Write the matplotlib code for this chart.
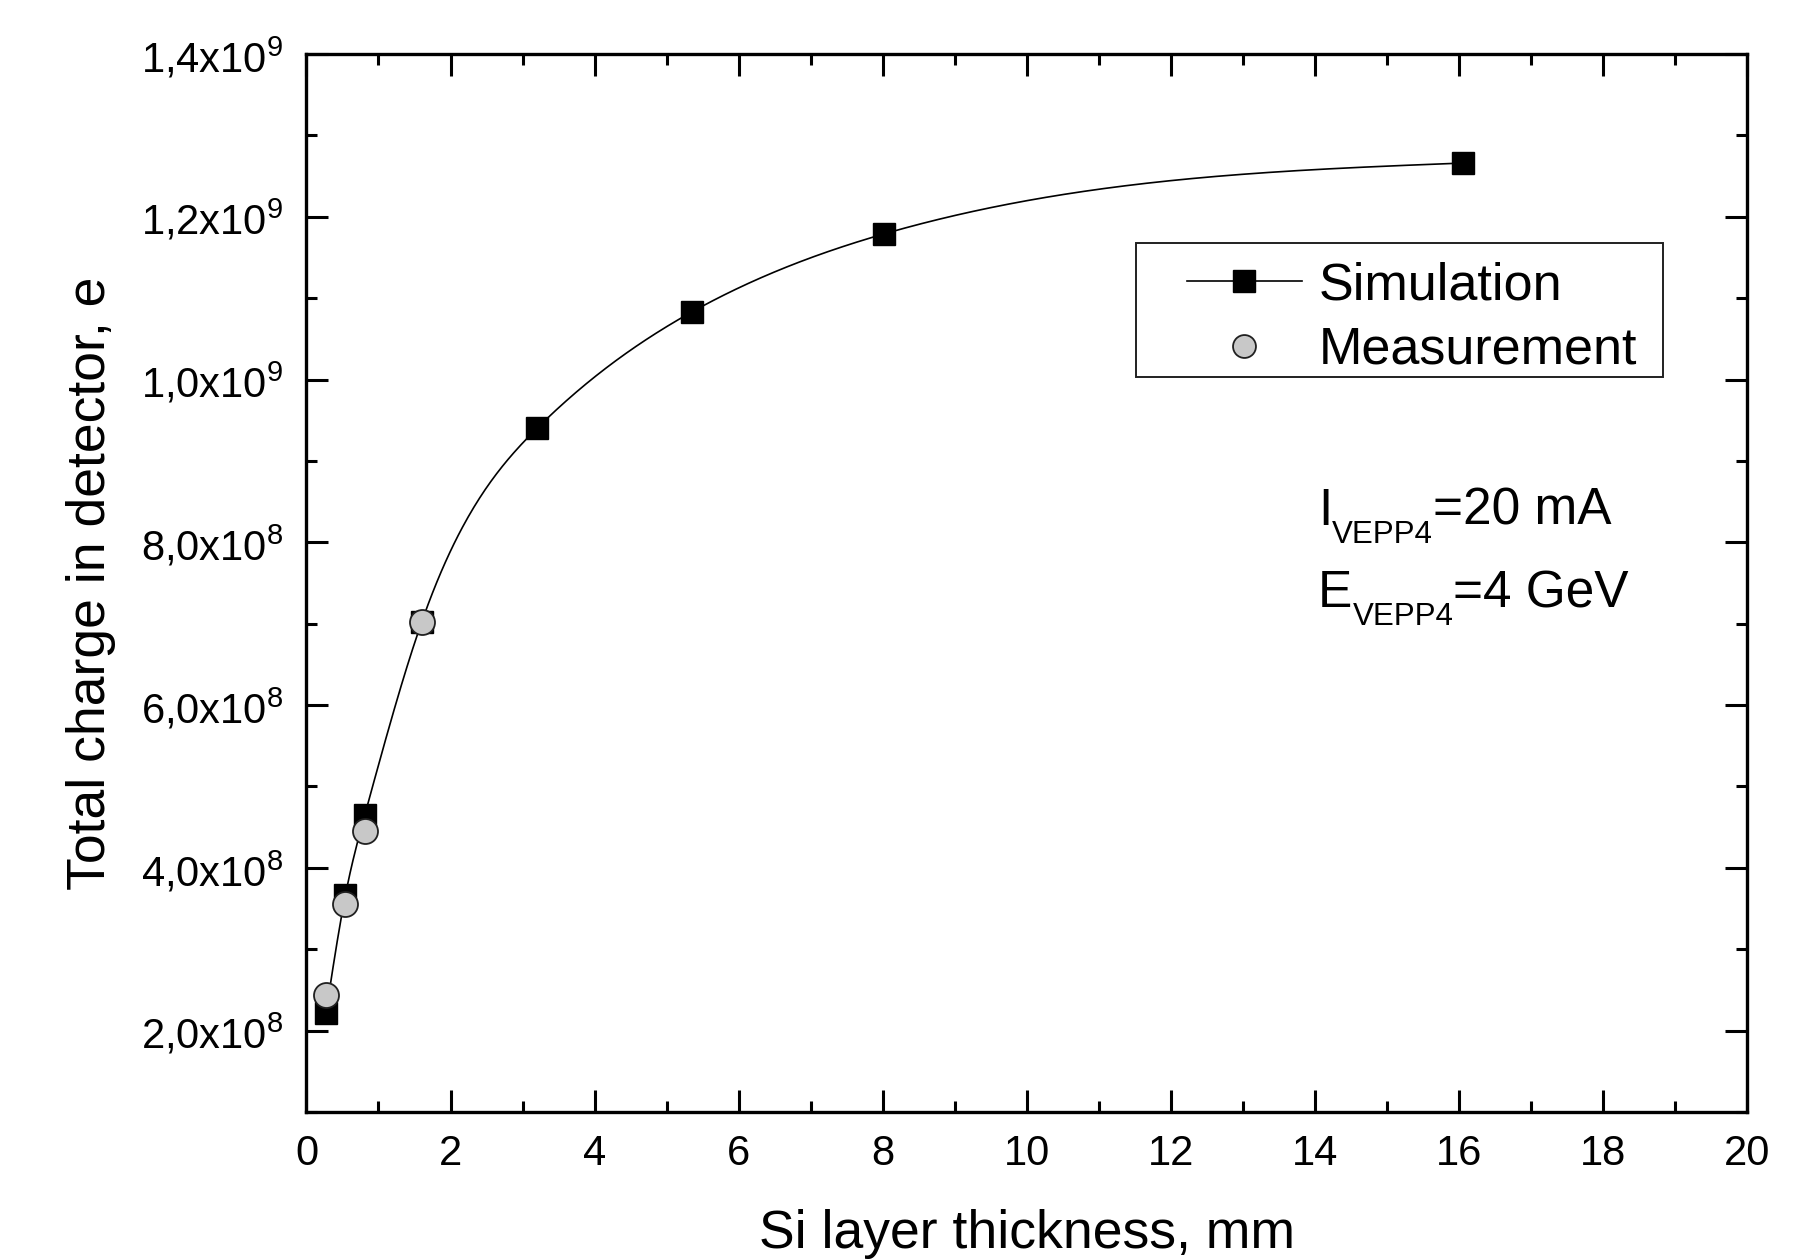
import matplotlib
matplotlib.use("Agg")
import matplotlib.pyplot as plt
import numpy as np
from matplotlib.patches import Rectangle
from matplotlib.ticker import FuncFormatter, MultipleLocator

plt.rcParams["font.family"] = ["Liberation Sans", "DejaVu Sans"]
plt.rcParams["mathtext.default"] = "regular"

# data
sim_thickness = [0.27, 0.54, 0.81, 1.6, 3.2, 5.35, 8.02, 16.05]
sim_charge = [2.21e8, 3.66e8, 4.65e8, 7.02e8, 9.40e8, 1.083e9, 1.179e9, 1.266e9]
meas_thickness = [0.27, 0.54, 0.81, 1.6]
meas_charge = [2.44e8, 3.56e8, 4.45e8, 7.02e8]

W, H = 1807, 1259


def natural_spline(x, y, xs):
    # natural cubic spline through the points (line style like Origin's "spline")
    x = np.asarray(x, float)
    y = np.asarray(y, float)
    n = len(x)
    h = np.diff(x)
    A = np.zeros((n, n))
    b = np.zeros(n)
    A[0, 0] = A[-1, -1] = 1.0
    for i in range(1, n - 1):
        A[i, i - 1] = h[i - 1]
        A[i, i] = 2 * (h[i - 1] + h[i])
        A[i, i + 1] = h[i]
        b[i] = 6 * ((y[i + 1] - y[i]) / h[i] - (y[i] - y[i - 1]) / h[i - 1])
    m = np.linalg.solve(A, b)
    idx = np.clip(np.searchsorted(x, xs) - 1, 0, n - 2)
    x0, x1 = x[idx], x[idx + 1]
    hh = h[idx]
    return (m[idx] * (x1 - xs) ** 3 / (6 * hh) + m[idx + 1] * (xs - x0) ** 3 / (6 * hh)
            + (y[idx] / hh - m[idx] * hh / 6) * (x1 - xs)
            + (y[idx + 1] / hh - m[idx + 1] * hh / 6) * (xs - x0))


def sci_label(value, pos):
    if value == 0:
        return "0"
    exp = int(np.floor(np.log10(abs(value)) + 1e-9))
    mant = value / 10**exp
    return f"{mant:.1f}".replace(".", ",") + "x10$^{" + str(exp) + "}$"


fig = plt.figure(figsize=(W / 100, H / 100), dpi=100)
ax = fig.add_axes([0.1696, 0.1168, 0.7972, 0.8403])

xs = np.linspace(sim_thickness[0], sim_thickness[-1], 800)
ax.plot(xs, natural_spline(sim_thickness, sim_charge, xs), color="black", lw=1.2, zorder=2)
ax.plot(sim_thickness, sim_charge, linestyle="none", marker="s", markersize=16.5,
        color="black", markeredgecolor="black", zorder=3)
ax.plot(meas_thickness, meas_charge, linestyle="none", marker="o", markersize=18,
        markerfacecolor="#c8c8c8", markeredgecolor="#202020", markeredgewidth=1.3, zorder=4)

# legend: frameless entries plus a plain box drawn around them
h_sim, = ax.plot([], [], color="black", lw=1.2, marker="s", markersize=16.5)
h_meas, = ax.plot([], [], linestyle="none", marker="o", markersize=16.5,
                  markerfacecolor="#c8c8c8", markeredgecolor="#202020", markeredgewidth=1.3)
ax.legend([h_sim, h_meas], ["Simulation", "Measurement"], loc="center left",
          bbox_to_anchor=(1187 / W, 1 - 318 / H), bbox_transform=fig.transFigure,
          fontsize=37.5, frameon=False, handlelength=2.2, borderpad=0,
          labelspacing=0.3, handletextpad=0.33, borderaxespad=0)
fig.add_artist(Rectangle((1136 / W, 1 - 377 / H), 527 / W, 134 / H,
                         transform=fig.transFigure, fill=False,
                         edgecolor="#202020", linewidth=1.4))

ax.set_xlim(0, 20)
ax.set_ylim(1e8, 1.4e9)
ax.xaxis.set_major_locator(MultipleLocator(2))
ax.xaxis.set_minor_locator(MultipleLocator(1))
ax.yaxis.set_major_locator(MultipleLocator(2e8))
ax.yaxis.set_minor_locator(MultipleLocator(1e8))
ax.yaxis.set_major_formatter(FuncFormatter(sci_label))

ax.tick_params(which="both", direction="in", top=True, right=True, width=2.2,
               labelsize=30)
ax.tick_params(which="major", length=16)
ax.tick_params(which="minor", length=8)
ax.tick_params(axis="x", pad=16)
ax.tick_params(axis="y", pad=16.5)
for spine in ax.spines.values():
    spine.set_linewidth(2.4)

ax.set_xlabel("Si layer thickness, mm", fontsize=38.5, labelpad=25)
ax.set_ylabel("Total charge in detector, e", fontsize=38.5, labelpad=18.5)

# beam parameters, with the subscripts dropped well below the baseline
renderer = fig.canvas.get_renderer()


def text_chain(x_px, base_px, parts):
    for s, size, drop in parts:
        t = fig.text(x_px / W, 1 - (base_px + drop) / H, s, fontsize=size,
                     ha="left", va="baseline")
        x_px = t.get_window_extent(renderer).x1


text_chain(1318, 525, [("I", 37, 0), ("VEPP4", 22.5, 18), ("=20 mA", 37, 0)])
text_chain(1318, 607, [("E", 37, 0), ("VEPP4", 22.5, 18), ("=4 GeV", 37, 0)])

fig.savefig("out.png", dpi=100)
